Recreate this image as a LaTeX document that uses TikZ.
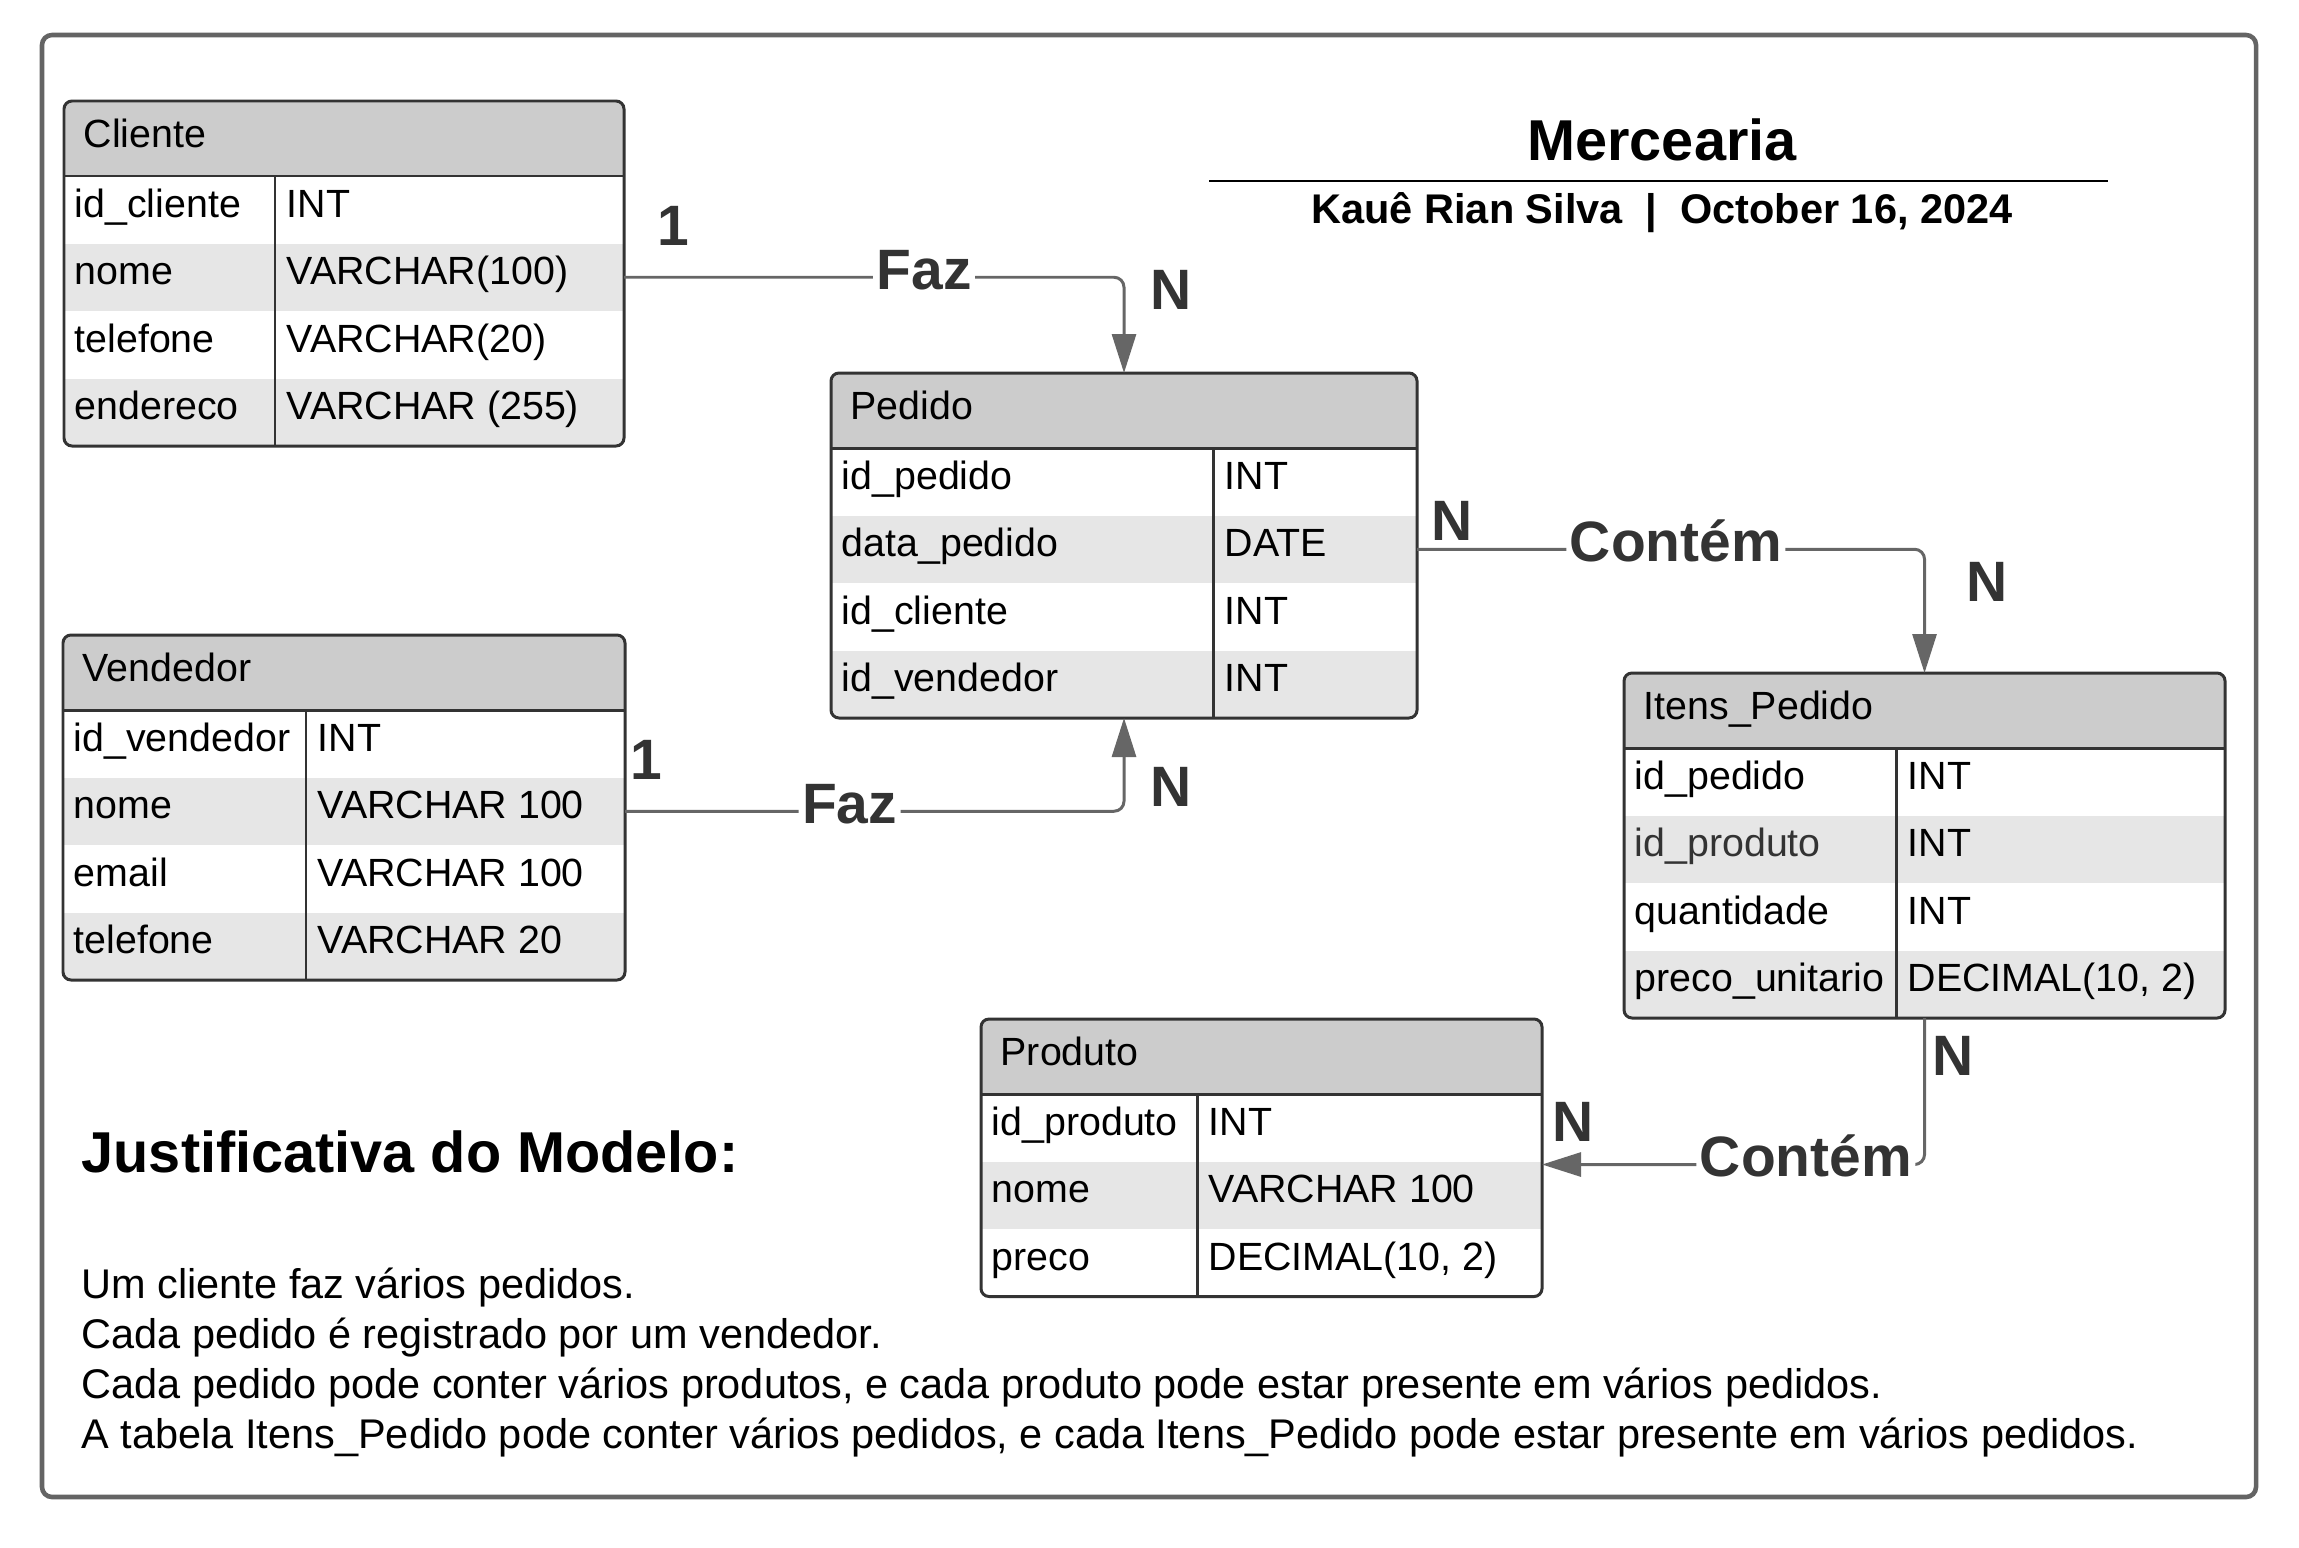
\documentclass[tikz,border=0pt]{standalone}
\usepackage{fontspec}
\setmainfont{Liberation Sans}
\usepackage{tikz}
\usetikzlibrary{arrows.meta}

\definecolor{linegray}{HTML}{666666}
\definecolor{framegray}{HTML}{646464}
\definecolor{textgray}{HTML}{333333}
\definecolor{bordergray}{HTML}{333333}
\definecolor{headfill}{HTML}{CCCCCC}
\definecolor{stripegray}{HTML}{E6E6E6}

\newcommand{\tabfont}{\fontsize{11.2}{13.4}\selectfont}
\newcommand{\relfont}{\fontsize{16.2}{19.4}\selectfont\bfseries}

% #1 name, #2 left, #3 top, #4 width, #5 key column, #6 rows, #7 title, #8 fields
\newcommand{\ertable}[8]{%
  \pgfmathsetmacro\tabh{0.75+0.675*#6}
  \begin{scope}
    \clip[rounded corners=0.08cm] (#2,#3) rectangle ++(#4,-\tabh);
    \fill[headfill] (#2,#3) rectangle ++(#4,-0.75);
    \foreach \fkey/\ftype [count=\i] in {#8} {
      \ifodd\i \def\stripe{white}\else \def\stripe{stripegray}\fi
      \node[rowbox, fill=\stripe, minimum width=#4cm] (#1-\i) at (#2,{#3-0.75-0.675*(\i-1)}) {};
      \node[cell] (#1-\i-k) at ([xshift=0.1cm, yshift=-0.41cm]#1-\i.north west) {\fkey};
      \node[cell] (#1-\i-t) at ([xshift=#5cm+0.11cm, yshift=-0.41cm]#1-\i.north west) {\ftype};
    }
  \end{scope}
  \node[tablebox, minimum width=#4cm, minimum height=\tabh cm] (#1) at (#2,#3) {};
  \node[cell] (#1-title) at ([xshift=0.19cm, yshift=-0.46cm]#1.north west) {#7};
  \draw[border] ([yshift=-0.75cm]#1.north west) -- ([yshift=-0.75cm]#1.north east);
  \draw[border] ([xshift=#5cm, yshift=-0.75cm]#1.north west) -- ([xshift=#5cm]#1.south west);
}

\begin{document}
\begin{tikzpicture}[
    rowbox/.style={rectangle, anchor=north west, minimum height=0.675cm, inner sep=0, outer sep=0},
    cell/.style={anchor=base west, inner sep=0, font=\tabfont},
    tablebox/.style={draw=bordergray, line width=0.85pt, rounded corners=0.08cm, anchor=north west, inner sep=0, outer sep=0},
    border/.style={draw=bordergray, line width=0.85pt},
    relarrow/.style={draw=linegray, line width=0.85pt, rounded corners=0.1cm, -{Triangle[length=0.39cm, width=0.24cm]}},
    rellabel/.style={font=\relfont, text=textgray, fill=white, inner xsep=1pt, inner ysep=0pt, anchor=base, yshift=-0.12cm},
    card/.style={font=\relfont, text=textgray, inner sep=0}]
    \useasboundingbox (0,0) rectangle (22.99,-15.47);
    \draw[draw=framegray, line width=1.3pt, rounded corners=0.1cm] (0.42,-0.35) rectangle (22.56,-14.97);

    % title block
    \node[font=\fontsize{16.4}{19.7}\selectfont\bfseries, anchor=base] (title) at (16.62,-1.60) {Mercearia};
    \draw[line width=0.7pt] (12.09,-1.81) -- (21.08,-1.81);
    \node[font=\fontsize{11.8}{14}\selectfont\bfseries, anchor=base] (author) at (16.62,-2.23) {Kauê Rian Silva~~|~~October 16, 2024};

    % tables
    \ertable{cliente}{0.64}{-1.01}{5.60}{2.11}{4}{Cliente}
        {id\_cliente/INT, nome/VARCHAR(100), telefone/VARCHAR(20), endereco/VARCHAR (255)}
    \ertable{vendedor}{0.63}{-6.35}{5.62}{2.43}{4}{Vendedor}
        {id\_vendedor/INT, nome/VARCHAR 100, email/VARCHAR 100, telefone/VARCHAR 20}
    \ertable{pedido}{8.31}{-3.73}{5.86}{3.82}{4}{Pedido}
        {id\_pedido/INT, data\_pedido/DATE, id\_cliente/INT, id\_vendedor/INT}
    \ertable{itens}{16.24}{-6.73}{6.01}{2.72}{4}{Itens\_Pedido}
        {id\_pedido/INT, {\color{textgray}id\_produto}/INT, quantidade/INT, preco\_unitario/{DECIMAL(10, 2)}}
    \ertable{produto}{9.81}{-10.19}{5.61}{2.16}{3}{Produto}
        {id\_produto/INT, nome/VARCHAR 100, preco/{DECIMAL(10, 2)}}

    % relationships
    \draw[relarrow] (cliente-2.east) -| node[rellabel, pos=0.3] (faz1) {Faz} (pedido.north);
    \draw[relarrow] (vendedor-2.east) -| node[rellabel, pos=0.225] (faz2) {Faz} (pedido.south);
    \draw[relarrow] (pedido-2.east) -| node[rellabel, pos=0.255] (contem1) {Contém} (itens.north);
    \draw[relarrow] (itens.south) |- node[rellabel, pos=0.655] (contem2) {Contém} ([yshift=-0.03cm]produto-2.north east);

    \node[card] (c1) at (6.73,-2.26) {1};
    \node[card] (cn1) at (11.71,-2.90) {N};
    \node[card] (v1) at (6.46,-7.60) {1};
    \node[card] (vn1) at (11.71,-7.87) {N};
    \node[card] (pn1) at (14.52,-5.21) {N};
    \node[card] (in1) at (19.87,-5.82) {N};
    \node[card] (in2) at (19.53,-10.56) {N};
    \node[card] (prn1) at (15.73,-11.22) {N};

    % justification
    \node[font=\fontsize{16.4}{19.7}\selectfont\bfseries, anchor=base west, inner sep=0] (just) at (0.81,-11.72) {Justificativa do Modelo:};
    \foreach \line [count=\i] in {Um cliente faz vários pedidos.,
        Cada pedido é registrado por um vendedor.,
        {Cada pedido pode conter vários produtos, e cada produto pode estar presente em vários pedidos.},
        {A tabela Itens\_Pedido pode conter vários pedidos, e cada Itens\_Pedido pode estar presente em vários pedidos.}}
        \node[font=\fontsize{11.8}{14}\selectfont, anchor=base west, inner sep=0] (just-\i) at (0.81,{-12.98-0.50*(\i-1)}) {\line};
\end{tikzpicture}
\end{document}
